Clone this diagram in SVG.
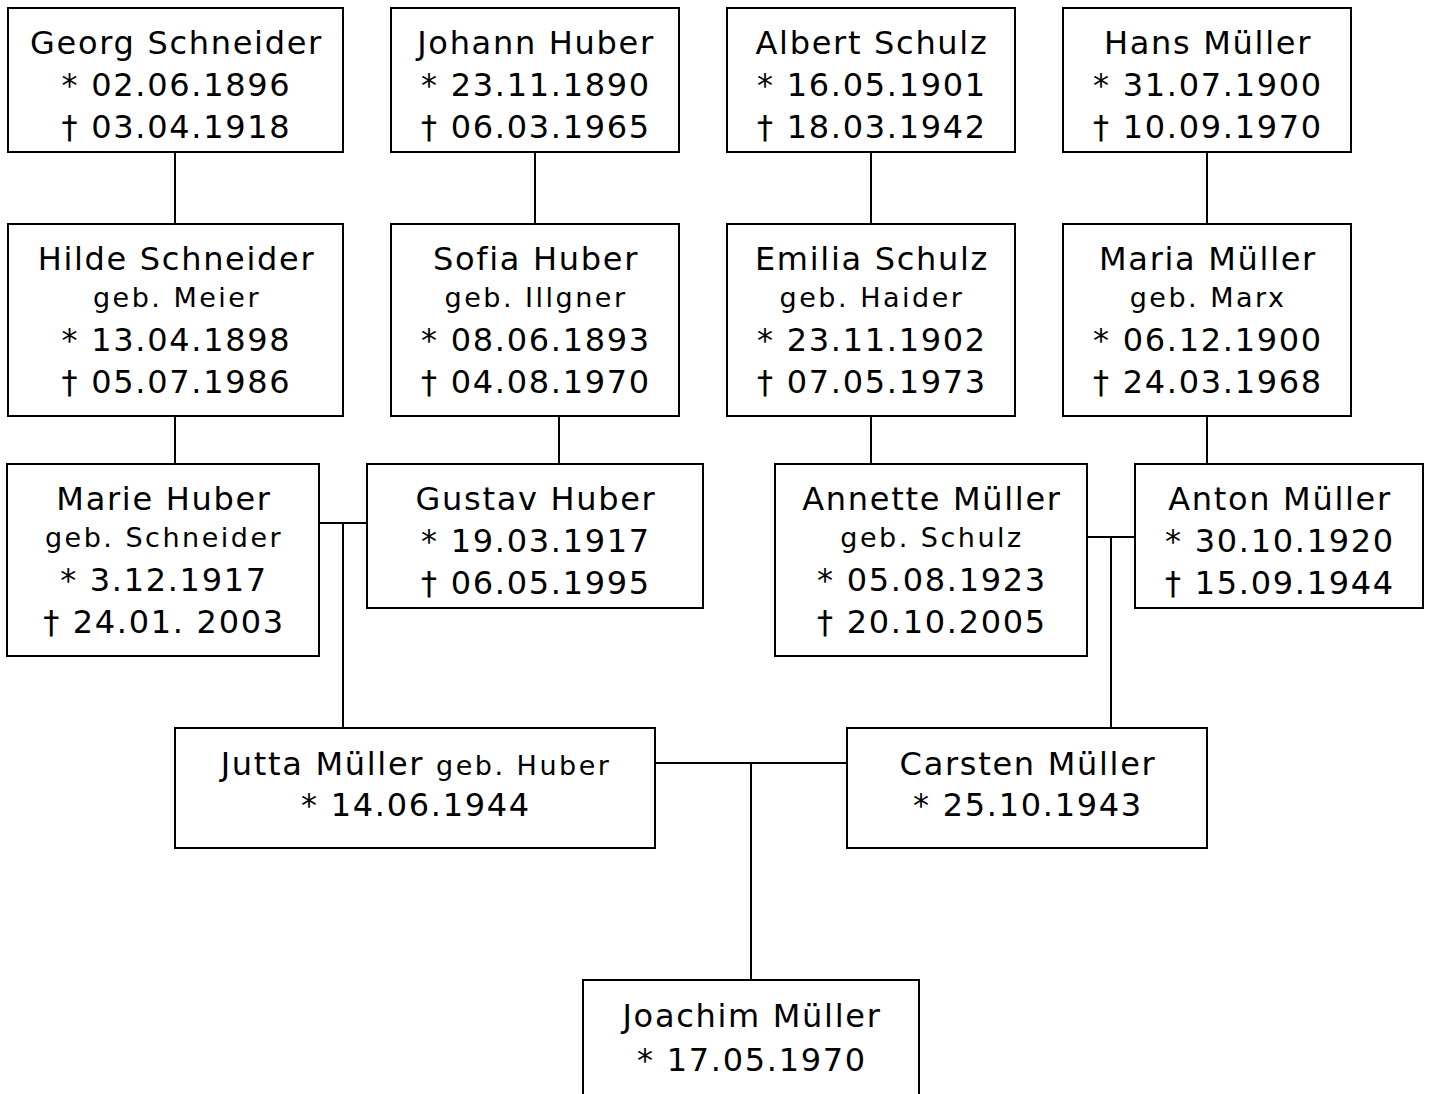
<svg xmlns="http://www.w3.org/2000/svg" width="1432" height="1094" viewBox="0 0 1432 1094">
<style>
rect{fill:#fff;stroke:#000;stroke-width:2}
line{stroke:#000;stroke-width:2}
text{font-family:"DejaVu Sans",Verdana,sans-serif;font-size:32px;letter-spacing:1.7px;fill:#000;text-anchor:middle}
.s{font-size:27px;letter-spacing:2.5px}
</style>
<rect x="0" y="0" width="1432" height="1094" style="stroke:none"/>
<g id="connectors">
<line x1="175" y1="152" x2="175" y2="224"/>
<line x1="535" y1="152" x2="535" y2="224"/>
<line x1="871" y1="152" x2="871" y2="224"/>
<line x1="1207" y1="152" x2="1207" y2="224"/>
<line x1="175" y1="416" x2="175" y2="464"/>
<line x1="559" y1="416" x2="559" y2="464"/>
<line x1="871" y1="416" x2="871" y2="464"/>
<line x1="1207" y1="416" x2="1207" y2="464"/>
<line x1="319" y1="523" x2="367" y2="523"/>
<line x1="343" y1="523" x2="343" y2="728"/>
<line x1="1087" y1="537" x2="1135" y2="537"/>
<line x1="1111" y1="537" x2="1111" y2="728"/>
<line x1="655" y1="763" x2="847" y2="763"/>
<line x1="751" y1="763" x2="751" y2="980"/>
</g>
<g id="georg"><rect x="8" y="8" width="335" height="144"/>
<text x="176.5" y="54">Georg Schneider</text><text x="176.5" y="96">* 02.06.1896</text><text x="176.5" y="138">† 03.04.1918</text></g>
<g id="johann"><rect x="391" y="8" width="288" height="144"/>
<text x="536" y="54">Johann Huber</text><text x="536" y="96">* 23.11.1890</text><text x="536" y="138">† 06.03.1965</text></g>
<g id="albert"><rect x="727" y="8" width="288" height="144"/>
<text x="872" y="54">Albert Schulz</text><text x="872" y="96">* 16.05.1901</text><text x="872" y="138">† 18.03.1942</text></g>
<g id="hans"><rect x="1063" y="8" width="288" height="144"/>
<text x="1208" y="54">Hans Müller</text><text x="1208" y="96">* 31.07.1900</text><text x="1208" y="138">† 10.09.1970</text></g>
<g id="hilde"><rect x="8" y="224" width="335" height="192"/>
<text x="176.5" y="270">Hilde Schneider</text><text class="s" x="177" y="307">geb. Meier</text><text x="176.5" y="351">* 13.04.1898</text><text x="176.5" y="393">† 05.07.1986</text></g>
<g id="sofia"><rect x="391" y="224" width="288" height="192"/>
<text x="536" y="270">Sofia Huber</text><text class="s" x="536" y="307">geb. Illgner</text><text x="536" y="351">* 08.06.1893</text><text x="536" y="393">† 04.08.1970</text></g>
<g id="emilia"><rect x="727" y="224" width="288" height="192"/>
<text x="872" y="270">Emilia Schulz</text><text class="s" x="872" y="307">geb. Haider</text><text x="872" y="351">* 23.11.1902</text><text x="872" y="393">† 07.05.1973</text></g>
<g id="maria"><rect x="1063" y="224" width="288" height="192"/>
<text x="1208" y="270">Maria Müller</text><text class="s" x="1208" y="307">geb. Marx</text><text x="1208" y="351">* 06.12.1900</text><text x="1208" y="393">† 24.03.1968</text></g>
<g id="marie"><rect x="7" y="464" width="312" height="192"/>
<text x="164" y="510">Marie Huber</text><text class="s" x="164" y="547">geb. Schneider</text><text x="164" y="591">* 3.12.1917</text><text x="164" y="633">† 24.01. 2003</text></g>
<g id="gustav"><rect x="367" y="464" width="336" height="144"/>
<text x="536" y="510">Gustav Huber</text><text x="536" y="552">* 19.03.1917</text><text x="536" y="594">† 06.05.1995</text></g>
<g id="annette"><rect x="775" y="464" width="312" height="192"/>
<text x="932" y="510">Annette Müller</text><text class="s" x="932" y="547">geb. Schulz</text><text x="932" y="591">* 05.08.1923</text><text x="932" y="633">† 20.10.2005</text></g>
<g id="anton"><rect x="1135" y="464" width="288" height="144"/>
<text x="1280" y="510">Anton Müller</text><text x="1280" y="552">* 30.10.1920</text><text x="1280" y="594">† 15.09.1944</text></g>
<g id="jutta"><rect x="175" y="728" width="480" height="120"/>
<text x="416" y="775">Jutta Müller <tspan class="s">geb. Huber</tspan></text><text x="416" y="816">* 14.06.1944</text></g>
<g id="carsten"><rect x="847" y="728" width="360" height="120"/>
<text x="1028" y="775">Carsten Müller</text><text x="1028" y="816">* 25.10.1943</text></g>
<g id="joachim"><rect x="583" y="980" width="336" height="130"/>
<text x="752" y="1027">Joachim Müller</text><text x="752" y="1071">* 17.05.1970</text></g>
</svg>
